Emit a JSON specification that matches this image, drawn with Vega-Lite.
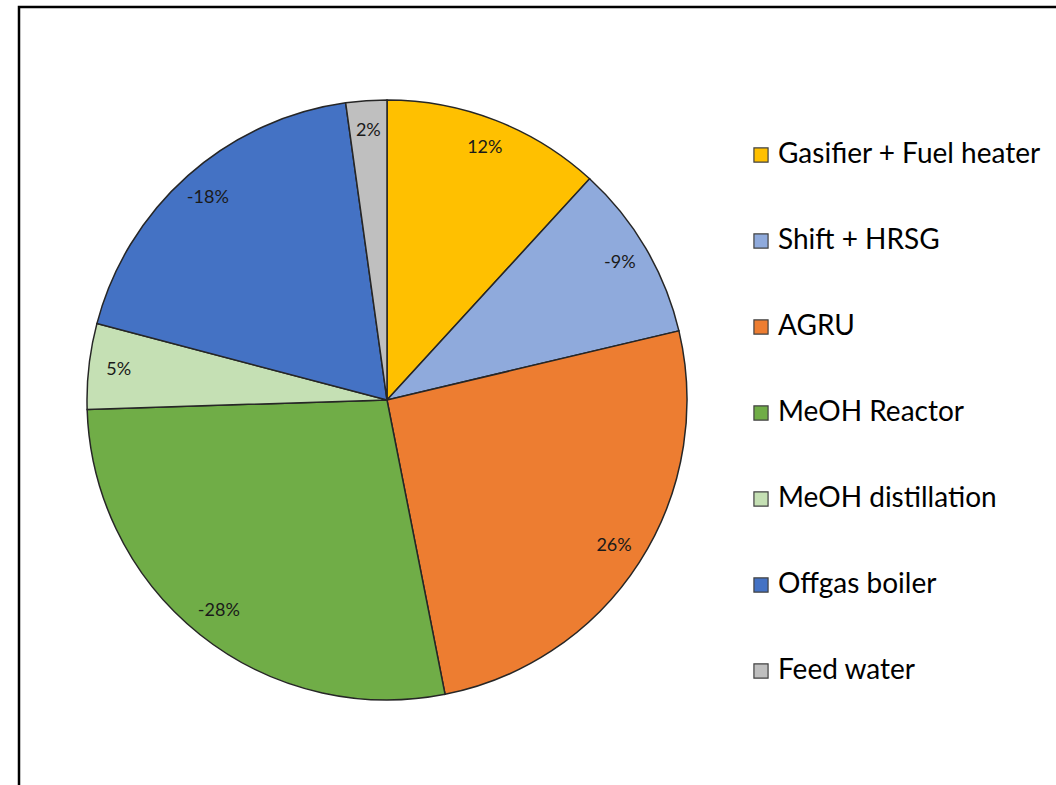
{
  "$schema": "https://vega.github.io/schema/vega-lite/v6.json",
  "width": 1040,
  "height": 790,
  "autosize": {"type": "none"},
  "padding": {"left": 19, "top": 7, "right": 0, "bottom": 0},
  "background": "white",
  "view": {"stroke": "#000000", "strokeWidth": 2.5},
  "config": {
    "view": {"stroke": "#000000", "strokeWidth": 2.5},
    "font": "Lato"
  },
  "data": {
    "values": [
      {"unit": "Gasifier + Fuel heater", "idx": 1, "value": 11.8, "label": "12%"},
      {"unit": "Shift + HRSG", "idx": 2, "value": 9.5, "label": "-9%"},
      {"unit": "AGRU", "idx": 3, "value": 25.6, "label": "26%"},
      {"unit": "MeOH Reactor", "idx": 4, "value": 27.6, "label": "-28%"},
      {"unit": "MeOH distillation", "idx": 5, "value": 4.6, "label": "5%"},
      {"unit": "Offgas boiler", "idx": 6, "value": 18.7, "label": "-18%"},
      {"unit": "Feed water", "idx": 7, "value": 2.2, "label": "2%"}
    ]
  },
  "encoding": {
    "theta": {"field": "value", "type": "quantitative", "stack": true},
    "order": {"field": "idx", "type": "quantitative"}
  },
  "layer": [
    {
      "mark": {"type": "arc", "outerRadius": 300, "x": 368, "y": 393, "stroke": "#262626", "strokeWidth": 1.5},
      "encoding": {
        "color": {
          "field": "unit",
          "type": "nominal",
          "sort": ["Gasifier + Fuel heater", "Shift + HRSG", "AGRU", "MeOH Reactor", "MeOH distillation", "Offgas boiler", "Feed water"],
          "scale": {
            "domain": ["Gasifier + Fuel heater", "Shift + HRSG", "AGRU", "MeOH Reactor", "MeOH distillation", "Offgas boiler", "Feed water"],
            "range": ["#FFC000", "#8FAADC", "#ED7D31", "#70AD47", "#C5E0B4", "#4472C4", "#BFBFBF"]
          },
          "legend": {
            "title": null,
            "orient": "none",
            "legendX": 728,
            "legendY": 134,
            "symbolType": "square",
            "symbolSize": 200,
            "symbolStrokeColor": "#404040",
            "symbolStrokeWidth": 1.2,
            "symbolOpacity": 1,
            "labelFont": "Lato",
            "labelFontSize": 28,
            "labelColor": "#000000",
            "labelOffset": 3,
            "labelLimit": 400,
            "rowPadding": 58
          }
        }
      }
    },
    {
      "mark": {"type": "text", "radius": 270, "x": 368, "y": 393, "font": "Lato", "fontSize": 18, "color": "#1a1a1a"},
      "encoding": {
        "text": {"field": "label", "type": "nominal"}
      }
    }
  ]
}
